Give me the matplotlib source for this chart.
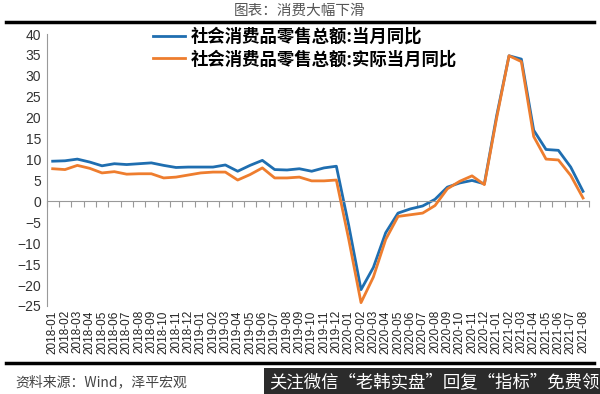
import numpy as np
import matplotlib.pyplot as plt

plt.rcParams['font.family'] = ['Liberation Sans', 'Noto Sans CJK SC', 'DejaVu Sans']

#### data
months = ['2018-01', '2018-02', '2018-03', '2018-04', '2018-05', '2018-06',
          '2018-07', '2018-08', '2018-09', '2018-10', '2018-11', '2018-12',
          '2019-01', '2019-02', '2019-03', '2019-04', '2019-05', '2019-06',
          '2019-07', '2019-08', '2019-09', '2019-10', '2019-11', '2019-12',
          '2020-01', '2020-02', '2020-03', '2020-04', '2020-05', '2020-06',
          '2020-07', '2020-08', '2020-09', '2020-10', '2020-11', '2020-12',
          '2021-01', '2021-02', '2021-03', '2021-04', '2021-05', '2021-06',
          '2021-07', '2021-08']

nominal = [9.6, 9.7, 10.1, 9.4, 8.5, 9.0, 8.8, 9.0, 9.2, 8.6, 8.1, 8.2,
           8.2, 8.2, 8.7, 7.2, 8.6, 9.8, 7.6, 7.5, 7.8, 7.2, 8.0, 8.4,
           -5.7, -21.1, -15.8, -7.5, -2.8, -1.8, -1.1, 0.5, 3.4, 4.4, 5.0, 4.2,
           20.5, 34.8, 34.0, 17.0, 12.4, 12.2, 8.2, 2.4]

real = [7.8, 7.6, 8.6, 7.9, 6.8, 7.1, 6.5, 6.6, 6.6, 5.6, 5.8, 6.3,
        6.8, 7.0, 7.0, 5.1, 6.4, 8.0, 5.6, 5.6, 5.8, 4.9, 4.9, 5.1,
        -9.0, -24.2, -18.1, -9.1, -3.6, -3.2, -2.8, -1.0, 3.0, 4.8, 6.1, 4.0,
        20.0, 34.8, 33.4, 15.5, 10.1, 9.9, 6.2, 0.8]

names = ['社会消费品零售总额:当月同比', '社会消费品零售总额:实际当月同比']
blue = '#1F6EB0'
orange = '#EE7D2E'

x = np.arange(len(months))

fig = plt.figure(figsize=(6, 3.94), dpi=100)
ax = fig.add_axes([0.0775, 0.2234, 0.9045, 0.6903])

ax.plot(x, nominal, color=blue, lw=2.0, solid_joinstyle='round', label=names[0], zorder=2)
ax.plot(x, real, color=orange, lw=2.0, solid_joinstyle='round', label=names[1], zorder=3)

ax.set_xlim(-0.5, len(months) - 0.5)
ax.set_ylim(-25, 40)
ax.set_yticks(np.arange(-25, 41, 5))
ax.tick_params(axis='y', length=0, labelsize=10, labelcolor='#333333', pad=4)

#### x axis line at zero with ticks between months
ax.spines['bottom'].set_position(('data', 0))
ax.spines['bottom'].set_color('#999999')
ax.spines['left'].set_color('#999999')
ax.spines['top'].set_visible(False)
ax.spines['right'].set_visible(False)
ax.set_xticks(np.arange(len(months) + 1) - 0.5)
ax.set_xticklabels([])
ax.tick_params(axis='x', length=4, color='#999999', direction='out')

#### month labels at the bottom
sec = ax.secondary_xaxis('bottom')
sec.set_xticks(x)
sec.set_xticklabels(months, rotation=90, fontsize=8.5, color='#222222')
sec.tick_params(length=0, pad=3)
sec.spines['bottom'].set_visible(False)

leg = ax.legend(loc='upper left', bbox_to_anchor=(0.235, 0.96), bbox_transform=fig.transFigure,
                frameon=False, handlelength=1.85, handletextpad=0.3, labelspacing=0.25,
                borderpad=0.2, prop={'family': ['Noto Sans CJK SC'], 'weight': 'bold', 'size': 12.5})

#### title, rules, source
fig.text(0.5, 0.972, '图表：消费大幅下滑', ha='center', va='center', fontsize=10.5,
         color='#555555', family=['Noto Sans CJK SC'])
fig.add_artist(plt.Line2D([0.01, 0.99], [0.945, 0.945], color='black', lw=2.5))
fig.add_artist(plt.Line2D([0.01, 0.99], [0.078, 0.078], color='black', lw=2.5))
fig.text(0.025, 0.03, '资料来源：Wind，泽平宏观', ha='left', va='center', fontsize=10,
         color='#444444', style='italic', family=['Noto Sans CJK SC'])
fig.text(1.0, 0.03, '关注微信“老韩实盘”回复“指标”免费领', ha='right', va='center', fontsize=12.5,
         color='white', family=['Noto Sans CJK SC'],
         bbox=dict(boxstyle='square,pad=0.3', fc='#2b2b2b', ec='none'))

plt.savefig('out.png', dpi=100)
